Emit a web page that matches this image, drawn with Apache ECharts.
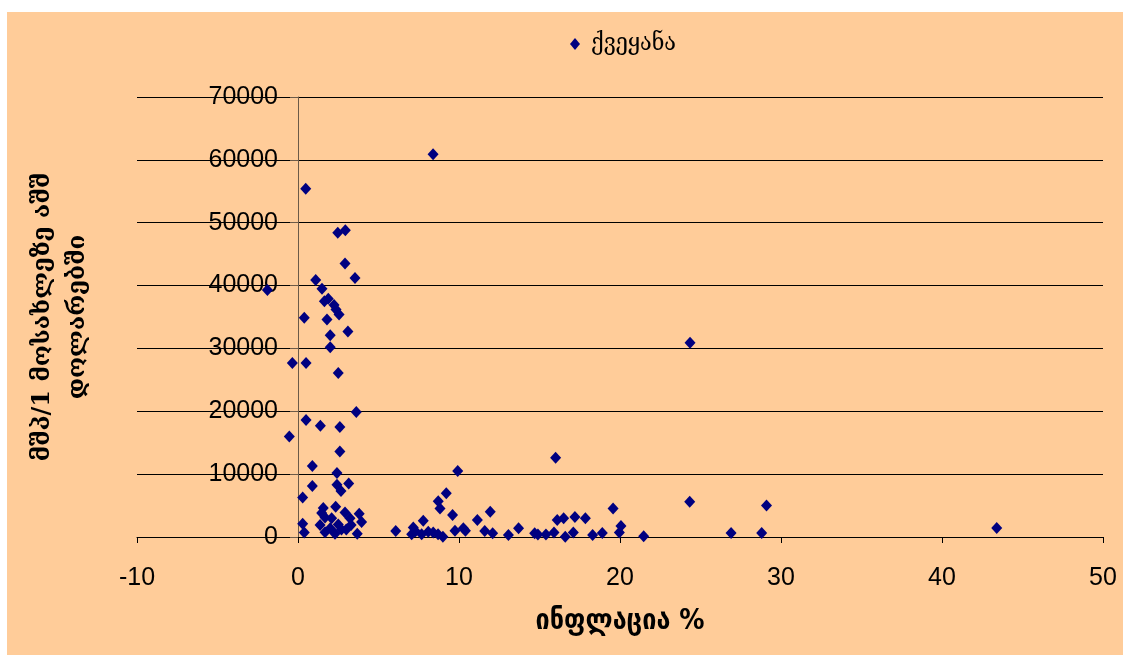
<!DOCTYPE html>
<html>
<head>
<meta charset="utf-8">
<script src="https://cdn.jsdelivr.net/npm/echarts@6/dist/echarts.min.js"></script>
<style>
  html, body { margin: 0; padding: 0; background: #ffffff; }
  #wrap { position: relative; width: 1130px; height: 660px; background: #ffffff; }
  #chart { position: absolute; left: 7px; top: 12px; width: 1116px; height: 643px; }
</style>
</head>
<body>
<div id="wrap"><div id="chart"></div></div>
<script>
// Inflation (%) per country
var inflation = [
  0.48, 2.47, 2.94, 2.92, 1.1, 3.54, 1.49, -1.9, 1.64, 1.88,
  2.24, 2.36, 2.55, 0.39, 1.8, 3.1, 2.0, 2.0, -0.35, 0.5,
  2.5, 3.62, 0.5, 1.39, 2.6, -0.54, 2.6, 0.89, 2.42, 0.89,
  3.15, 2.42, 2.67, 0.29, 2.34, 1.57, 2.92, 3.8, 1.47, 1.68,
  2.09, 3.23, 3.95, 1.37, 2.5, 0.29, 0.39, 1.68, 2.3, 3.0,
  3.68, 2.0, 3.3, 2.7, 6.07, 9.92, 9.21, 8.71, 8.82, 9.6,
  7.78, 7.16, 7.06, 7.68, 8.09, 8.4, 8.7, 9.0, 9.75, 10.27,
  10.4, 11.14, 11.94, 11.6, 12.09, 13.07, 13.7, 16.0, 14.7, 14.9,
  15.4, 15.9, 16.1, 16.5, 16.6, 17.1, 17.2, 17.85, 18.3, 18.9,
  19.57, 19.96, 20.06, 21.47, 24.33, 26.9, 28.8, 29.1, 24.35, 8.39,
  43.4, 7.3
];
// GDP per capita, USD
var gdpPerCapita = [
  55400, 48400, 48800, 43500, 40900, 41200, 39500, 39300, 37500, 37900,
  36900, 36200, 35400, 34900, 34600, 32700, 32100, 30200, 27700, 27700,
  26100, 19900, 18600, 17700, 17500, 16000, 13600, 11300, 10200, 8100,
  8500, 8300, 7300, 6300, 4800, 4600, 3900, 3700, 3800, 3100,
  3000, 3000, 2400, 1900, 2000, 2100, 700, 750, 500, 1200,
  500, 1400, 1900, 1200, 950, 10500, 6950, 5700, 4550, 3500,
  2600, 1500, 430, 430, 850, 700, 430, 50, 1000, 1400,
  1000, 2700, 4000, 950, 590, 320, 1400, 12600, 600, 400,
  400, 700, 2700, 3000, 50, 700, 3200, 3000, 320, 650,
  4550, 700, 1750, 100, 5600, 640, 640, 5000, 30900, 60900,
  1430, 900
];
var seriesName = 'ქვეყანა';
var xTitle = 'ინფლაცია %';
var yTitle = 'მშპ/1 მოსახლეზე აშშ\nდოლარებში';
var xTicks = { min: -10, max: 50, interval: 10 };
var yTicks = { min: 0, max: 70000, interval: 10000 };

var points = inflation.map(function (v, i) { return [v, gdpPerCapita[i]]; });

var chart = echarts.init(document.getElementById('chart'));
chart.setOption({
  backgroundColor: '#FFCC99',
  animation: false,
  legend: {
    left: 558, top: 15,
    data: [{ name: seriesName, icon: 'diamond' }],
    itemWidth: 10, itemHeight: 12,
    textStyle: { fontFamily: 'DejaVu Serif Condensed', fontSize: 24, color: '#000', padding: [0, 0, 0, 6] }
  },
  grid: { left: 130, top: 85, width: 966, height: 440, containLabel: false, outerBoundsMode: 'none' },
  xAxis: {
    type: 'value',
    min: xTicks.min, max: xTicks.max, interval: xTicks.interval,
    name: xTitle, nameLocation: 'middle', nameGap: 71,
    nameTextStyle: { fontFamily: 'DejaVu Sans Condensed', fontSize: 28, fontWeight: 'bold', color: '#000' },
    axisLine: { onZero: true, lineStyle: { color: '#000', width: 1 } },
    axisTick: { show: true, length: 6, inside: false, lineStyle: { color: '#000' } },
    axisLabel: { fontFamily: 'Liberation Sans', fontSize: 25, color: '#000', margin: 29 },
    splitLine: { show: false }
  },
  yAxis: {
    type: 'value',
    min: yTicks.min, max: yTicks.max, interval: yTicks.interval,
    name: yTitle, nameLocation: 'middle', nameGap: 42, nameRotate: 90,
    nameTextStyle: { fontFamily: 'DejaVu Serif', fontSize: 24, fontWeight: 'bold', color: '#000', lineHeight: 35, align: 'center' },
    axisLine: { show: true, onZero: true, lineStyle: { color: '#6b5a48', width: 1 } },
    axisTick: { show: true, length: 8, inside: false, lineStyle: { color: '#6b5a48' } },
    axisLabel: { fontFamily: 'Liberation Sans', fontSize: 25, color: '#000', margin: -141,
      formatter: function (v) { return String(v); } },
    splitLine: { show: true, lineStyle: { color: '#000', width: 1 } }
  },
  series: [{
    name: seriesName,
    type: 'scatter',
    symbol: 'diamond',
    symbolSize: [11, 12],
    itemStyle: { color: '#000080', opacity: 1 },
    data: points
  }]
});
</script>
</body>
</html>
